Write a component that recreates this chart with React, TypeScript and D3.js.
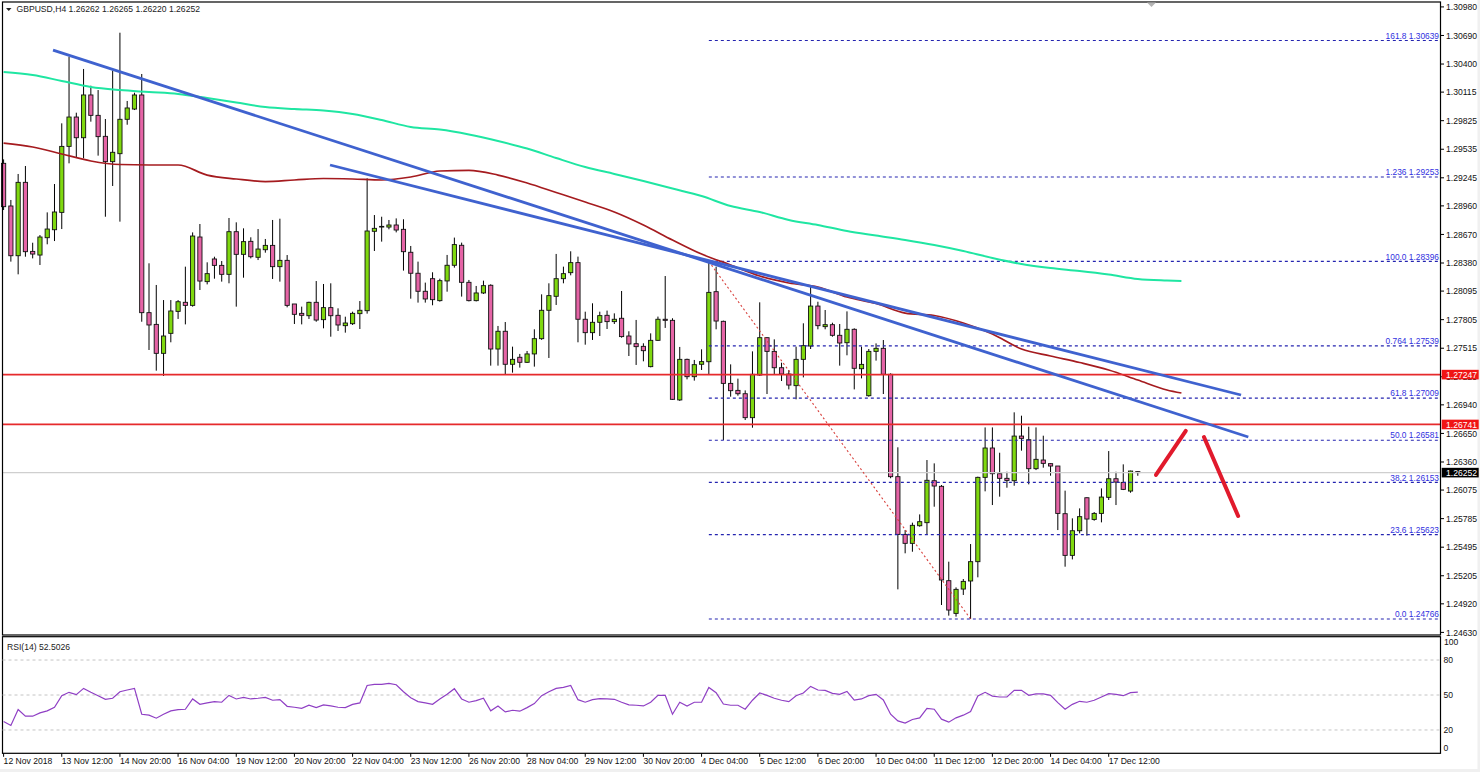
import * as d3 from 'd3';
import React from 'react';

const opens = [
  1.29392, 1.28959, 1.28454, 1.29199, 1.28498, 1.28461, 1.28637, 1.28718, 1.28894, 1.29564,
  1.29862, 1.29652, 1.30086, 1.29879, 1.29666, 1.29409, 1.2949, 1.29839, 1.29943, 1.30086,
  1.27876, 1.27757, 1.27463, 1.27666, 1.27889, 1.27981, 1.2795, 1.28644, 1.28191, 1.28421,
  1.28356, 1.28265, 1.28698, 1.28468, 1.286, 1.28438, 1.28515, 1.28559, 1.28343, 1.28407,
  1.27964, 1.27869, 1.27845, 1.27981, 1.27805, 1.27927, 1.27849, 1.27744, 1.27764, 1.27866,
  1.27896, 1.28702, 1.28745, 1.28745, 1.28766, 1.28722, 1.28489, 1.28276, 1.28093, 1.28221,
  1.27998, 1.28198, 1.28357, 1.2856, 1.28184, 1.27998, 1.28076, 1.28154, 1.27507, 1.27687,
  1.27352, 1.27423, 1.27372, 1.27457, 1.27612, 1.279, 1.28042, 1.28221, 1.28282, 1.28384,
  1.27809, 1.27673, 1.27778, 1.27849, 1.27785, 1.27819, 1.27639, 1.27561, 1.27534, 1.27328,
  1.27595, 1.27809, 1.27798, 1.2699, 1.27402, 1.27226, 1.27352, 1.27378, 1.28089, 1.27788,
  1.27158, 1.27087, 1.27053, 1.2681, 1.27243, 1.27622, 1.27483, 1.27317, 1.27253, 1.27135,
  1.27402, 1.27537, 1.27943, 1.27734, 1.27754, 1.27646, 1.27571, 1.27707, 1.27307, 1.27033,
  1.27483, 1.27514, 1.2725, 1.26211, 1.25625, 1.25534, 1.25713, 1.25744, 1.2617, 1.26113,
  1.25155, 1.24823, 1.2507, 1.25152, 1.25348, 1.26204, 1.26502, 1.26241, 1.26194, 1.2617,
  1.26623, 1.26586, 1.26292, 1.2638, 1.26343, 1.26319, 1.25835, 1.25412, 1.25662, 1.25997,
  1.25777, 1.25838, 1.26001, 1.2619, 1.26153, 1.26065, 1.26262,
];

const highs = [
  1.29432, 1.2902, 1.29284, 1.29365, 1.28586, 1.28664, 1.28894, 1.29182, 1.29798, 1.30475,
  1.29906, 1.3035, 1.3018, 1.30136, 1.29842, 1.30333, 1.30718, 1.30025, 1.30109, 1.30299,
  1.28377, 1.28157, 1.28004, 1.28004, 1.28004, 1.28343, 1.28691, 1.28776, 1.28387, 1.28444,
  1.284, 1.28837, 1.28793, 1.28732, 1.28641, 1.28725, 1.28624, 1.28817, 1.2883, 1.28461,
  1.27964, 1.27937, 1.27987, 1.28197, 1.28167, 1.28174, 1.2792, 1.27835, 1.27886, 1.27994,
  1.2924, 1.28867, 1.2885, 1.28817, 1.28833, 1.28824, 1.28553, 1.28394, 1.28181, 1.28286,
  1.28221, 1.28462, 1.28638, 1.28587, 1.28208, 1.28147, 1.28201, 1.28164, 1.27741, 1.27781,
  1.27531, 1.27457, 1.27487, 1.27707, 1.28062, 1.28174, 1.28472, 1.28343, 1.28499, 1.28445,
  1.27886, 1.27971, 1.27886, 1.27897, 1.27869, 1.28096, 1.27687, 1.27802, 1.27565, 1.27666,
  1.27836, 1.28248, 1.27819, 1.27528, 1.27409, 1.27396, 1.27504, 1.28394, 1.28343, 1.27795,
  1.27351, 1.27206, 1.27087, 1.27483, 1.27981, 1.27625, 1.27605, 1.27368, 1.27294, 1.27531,
  1.27768, 1.2814, 1.27987, 1.27903, 1.27774, 1.27761, 1.27889, 1.27717, 1.27531, 1.27507,
  1.27564, 1.27598, 1.2726, 1.26509, 1.25669, 1.25744, 1.25828, 1.2638, 1.26346, 1.26126,
  1.25348, 1.25087, 1.25172, 1.25527, 1.26211, 1.26711, 1.26711, 1.26454, 1.26261, 1.26864,
  1.2683, 1.26718, 1.26711, 1.26627, 1.26346, 1.26319, 1.26069, 1.25788, 1.25889, 1.26001,
  1.25852, 1.26092, 1.26471, 1.26261, 1.26336, 1.26272, 1.26265,
];

const lows = [
  1.28918, 1.28394, 1.28265, 1.28444, 1.28427, 1.2836, 1.2857, 1.28603, 1.28725, 1.29392,
  1.29453, 1.29443, 1.29815, 1.2947, 1.2885, 1.29162, 1.288, 1.29784, 1.29933, 1.27784,
  1.27497, 1.27287, 1.27233, 1.27575, 1.27812, 1.27757, 1.27937, 1.28106, 1.28163, 1.28221,
  1.28191, 1.28174, 1.27937, 1.28231, 1.28427, 1.2841, 1.28485, 1.28218, 1.28191, 1.2793,
  1.27761, 1.27757, 1.27812, 1.27784, 1.27717, 1.27632, 1.2769, 1.27673, 1.27751, 1.2771,
  1.27866, 1.28502, 1.28597, 1.28722, 1.28691, 1.28303, 1.28018, 1.27978, 1.27978, 1.27951,
  1.27988, 1.28089, 1.28333, 1.28039, 1.2799, 1.2799, 1.28066, 1.27338, 1.27338, 1.2725,
  1.27267, 1.27318, 1.27365, 1.27328, 1.276, 1.27416, 1.27954, 1.28174, 1.28255, 1.27575,
  1.27551, 1.27599, 1.27639, 1.2771, 1.27761, 1.27622, 1.27436, 1.27345, 1.27382, 1.27321,
  1.27589, 1.27721, 1.2699, 1.2698, 1.27199, 1.27186, 1.27294, 1.27243, 1.27707, 1.26583,
  1.27023, 1.27033, 1.26786, 1.26708, 1.27235, 1.2705, 1.27253, 1.27182, 1.27097, 1.26996,
  1.27219, 1.27507, 1.27707, 1.27707, 1.27632, 1.27338, 1.27443, 1.27097, 1.27209, 1.27023,
  1.27389, 1.2705, 1.26195, 1.25067, 1.25433, 1.25449, 1.25703, 1.25619, 1.25906, 1.24908,
  1.248, 1.2479, 1.2501, 1.24766, 1.25189, 1.26062, 1.25923, 1.26008, 1.26099, 1.26119,
  1.26475, 1.26133, 1.26278, 1.26302, 1.26221, 1.25669, 1.25297, 1.25371, 1.25635, 1.25612,
  1.25764, 1.25747, 1.25974, 1.25923, 1.26075, 1.26048, 1.2622,
];

const closes = [
  1.28952, 1.28454, 1.29199, 1.28495, 1.28471, 1.28644, 1.28725, 1.28898, 1.29564, 1.29862,
  1.29652, 1.30086, 1.29879, 1.29663, 1.29409, 1.29504, 1.29839, 1.29954, 1.30086, 1.27876,
  1.27751, 1.27463, 1.27639, 1.27893, 1.27987, 1.2795, 1.28654, 1.28197, 1.28272, 1.28356,
  1.28265, 1.28698, 1.28468, 1.28597, 1.28444, 1.28522, 1.28559, 1.28343, 1.28407, 1.2795,
  1.27859, 1.27849, 1.27981, 1.27801, 1.27927, 1.27845, 1.27751, 1.27771, 1.27869, 1.279,
  1.28705, 1.28732, 1.28752, 1.28766, 1.28715, 1.28495, 1.28276, 1.28093, 1.28015, 1.28008,
  1.28201, 1.28357, 1.28567, 1.28184, 1.27998, 1.28076, 1.2815, 1.27507, 1.27687, 1.27352,
  1.27402, 1.27372, 1.27457, 1.27612, 1.279, 1.28049, 1.28221, 1.28272, 1.28384, 1.27809,
  1.27673, 1.27778, 1.27846, 1.27785, 1.27809, 1.27633, 1.27558, 1.27531, 1.2749, 1.27595,
  1.27809, 1.27798, 1.26996, 1.27402, 1.27226, 1.27348, 1.27379, 1.28082, 1.27791, 1.27158,
  1.27084, 1.27053, 1.2681, 1.2725, 1.27622, 1.27483, 1.27317, 1.27253, 1.27141, 1.27402,
  1.27541, 1.27943, 1.27744, 1.27754, 1.27646, 1.27568, 1.27707, 1.27311, 1.27351, 1.27483,
  1.27514, 1.2725, 1.26211, 1.25625, 1.25534, 1.25717, 1.25754, 1.26174, 1.26116, 1.25162,
  1.24857, 1.25067, 1.25148, 1.25348, 1.26204, 1.26502, 1.26241, 1.26194, 1.26173, 1.26623,
  1.266, 1.26292, 1.26387, 1.26346, 1.26319, 1.25838, 1.25412, 1.25662, 1.25805, 1.25781,
  1.25838, 1.26004, 1.2619, 1.26156, 1.26082, 1.26268, 1.26252,
];

// moving averages, read every 4 bars (the last point sits 2 bars later)
const maBars = [
  0, 4, 8, 12, 16, 20, 24, 28, 32, 36, 40, 44, 48, 52, 56, 60, 64, 68, 72, 76, 80,
  84, 88, 92, 96, 100, 104, 108, 112, 116, 120, 124, 128, 132, 136, 140, 144, 148, 152, 156, 160, 162,
];
const maRed = [
  1.29598, 1.29558, 1.29487, 1.29416, 1.2938, 1.29375, 1.29375, 1.29273, 1.29233, 1.29207, 1.29223,
  1.29238, 1.29233, 1.29223, 1.29253, 1.29314, 1.29321, 1.29273, 1.29192, 1.29096, 1.28999,
  1.28898, 1.28766, 1.28614, 1.28471, 1.2836, 1.28248, 1.28177, 1.28136, 1.28035, 1.27969,
  1.27872, 1.27847, 1.27771, 1.27659, 1.27507, 1.27436, 1.2737, 1.27294, 1.27192, 1.27091, 1.2706,
];
const maGreen = [
  1.30319, 1.30289, 1.30228, 1.30167, 1.30136, 1.30116, 1.30096, 1.30055, 1.30009, 1.29964, 1.29943,
  1.29928, 1.29893, 1.29832, 1.29761, 1.29735, 1.29685, 1.29619, 1.29542, 1.29446, 1.29355,
  1.29284, 1.29212, 1.29136, 1.2906, 1.28959, 1.28898, 1.28817, 1.28766, 1.28705, 1.28659,
  1.28614, 1.28563, 1.28502, 1.28431, 1.2837, 1.28329, 1.28299, 1.28263, 1.28218, 1.28202, 1.28197,
];

const rsiValues = [
  27.3, 23.9, 37.5, 31.8, 31.8, 34.7, 36.4, 39.5, 49.4, 52.3, 50.3, 55.7, 52.3, 49.4, 46.3, 47.2,
  52.8, 54.3, 55.7, 33.5, 32.7, 30.1, 33.5, 36.4, 37.5, 37.8, 46.6, 42, 43.2, 44.3, 43.8, 49.7,
  46.6, 48, 46.6, 47.2, 48, 45.5, 46, 40.3, 39.5, 38.6, 41.2, 39.2, 41.5, 40.6, 39.5, 39.2, 42,
  43.2, 58.2, 59.1, 59.1, 59.9, 58.8, 52.8, 47.7, 44.3, 43.2, 42, 46.6, 50.6, 55.4, 46.6, 43.8,
  45.2, 47.2, 36.4, 40.6, 35.5, 36.9, 36.1, 39.2, 42.6, 49.4, 52.8, 55.7, 56.5, 58.2, 46, 43.8,
  46, 46.9, 46.6, 46.3, 43.8, 41.5, 41.2, 40.6, 43.8, 49.7, 49.7, 33.5, 43.8, 40.6, 43.8, 43.8,
  56.5, 52, 42.3, 41.2, 41.2, 37.8, 45.5, 51.7, 49.7, 47.2, 45.5, 44.3, 49.4, 51.7, 57.4, 54.3,
  54, 51.4, 50.6, 53.1, 45.7, 46.6, 49.4, 50.6, 45.7, 33.5, 27.8, 25.9, 29, 30.4, 38.6, 37.8,
  29.3, 26.7, 30.4, 32.7, 35.8, 49.1, 52.3, 49.1, 48.3, 48.3, 54, 54, 49.7, 50.9, 50.9, 49.7,
  43.5, 37.8, 42, 44.6, 43.8, 45.5, 48.3, 51.1, 50.6, 49.4, 52, 52.5,
];

const priceTicks = [
  '1.30980', '1.30690', '1.30400', '1.30115', '1.29825', '1.29535', '1.29245', '1.28960',
  '1.28670', '1.28380', '1.28095', '1.27805', '1.27515', '1.27225', '1.26940', '1.26650',
  '1.26360', '1.26075', '1.25785', '1.25495', '1.25205', '1.24920', '1.24630',
];

const dateLabels = [
  '12 Nov 2018', '13 Nov 12:00', '14 Nov 20:00', '16 Nov 04:00', '19 Nov 12:00', '20 Nov 20:00',
  '22 Nov 04:00', '23 Nov 12:00', '26 Nov 20:00', '28 Nov 04:00', '29 Nov 12:00', '30 Nov 20:00',
  '4 Dec 04:00', '5 Dec 12:00', '6 Dec 20:00', '10 Dec 04:00', '11 Dec 12:00', '12 Dec 20:00',
  '14 Dec 04:00', '17 Dec 12:00',
];

const fibNames = ['161.8', '1.236', '100.0', '0.764', '61.8', '50.0', '38.2', '23.6', '0.0'];
const fibPrices = [1.30639, 1.29253, 1.28396, 1.27539, 1.27009, 1.26581, 1.26153, 1.25623, 1.24766];

const redLevels = [1.27247, 1.26741];
const lastPrice = 1.26252;
const rsiLevels = [80, 50, 20];
const rsiLabels = [100, 80, 50, 20, 0];

// [bar, price] ends of the drawn lines
const trendA = [[6.8, 1.30542], [171.2, 1.26614]];
const trendB = [[44.9, 1.29375], [170.2, 1.2704]];
const fibDiagonal = [[97, 1.28396], [133, 1.24766]];
const arrowUp = [[158.5, 1.26228], [162.6, 1.26675]];
const arrowDown = [[165.1, 1.26614], [169.8, 1.25812]];

const WIDTH = 1480;
const HEIGHT = 772;
const LEFT = 2.5;
const RIGHT = 1440.5;
const FONT = '"Liberation Sans", Arial, sans-serif';

const x = d3.scaleLinear().domain([0, 156]).range([3.6, 1137.8]);
const y = d3.scaleLinear().domain([1.24766, 1.30639]).range([619, 40.5]);
const rsiY = d3.scaleLinear().domain([0, 100]).range([753.3, 636.7]);

const priceLine = d3
  .line<number[]>()
  .x((d) => x(d[0]))
  .y((d) => y(d[1]));

const maLine = d3
  .line<number>()
  .x((_, i) => x(maBars[i]))
  .y((d) => y(d))
  .curve(d3.curveMonotoneX);

const rsiLine = d3
  .line<number>()
  .x((_, i) => x(i))
  .y((d) => rsiY(d));

const App: React.FC = () => {
  return (
    <svg
      width={WIDTH}
      height={HEIGHT}
      style={{ position: 'fixed', left: 0, top: 0, background: '#ffffff' }}
      fontFamily={FONT}
      fontSize={8.6}
    >
      <rect x={0} y={769} width={WIDTH} height={3} fill="#f0f0f0" />
      <rect x={1477.5} y={0} width={2.5} height={HEIGHT} fill="#f0f0f0" />

      {/* candles */}
      {opens.map((open, i) => {
        const top = y(Math.max(open, closes[i]));
        const bottom = y(Math.min(open, closes[i]));
        return (
          <g key={i}>
            <line x1={x(i)} x2={x(i)} y1={y(highs[i])} y2={y(lows[i])} stroke="#000" />
            <rect
              x={x(i) - 2.1}
              y={top}
              width={4.2}
              height={Math.max(bottom - top, 0.5)}
              fill={closes[i] >= open ? '#7fd80f' : '#e564a6'}
              stroke="#111"
              strokeWidth={0.9}
            />
          </g>
        );
      })}

      {/* last price line */}
      <line x1={LEFT} x2={RIGHT} y1={y(lastPrice)} y2={y(lastPrice)} stroke="#cfcfcf" strokeWidth={1.2} />

      {/* fibonacci levels */}
      <path d={priceLine(fibDiagonal) ?? ''} fill="none" stroke="#d8403c" strokeWidth={1.1} strokeDasharray="2 2.5" />
      {fibPrices.map((p, i) => (
        <g key={fibNames[i]}>
          <line x1={x(97)} x2={RIGHT - 1} y1={y(p)} y2={y(p)} stroke="#2424b0" strokeWidth={1.15} strokeDasharray="3 3" />
          <text x={1439} y={y(p) - 1.8} textAnchor="end" fill="#3030e0" fontSize={8.35}>
            {fibNames[i]} {p.toFixed(5)}
          </text>
        </g>
      ))}

      {/* moving averages */}
      <path d={maLine(maGreen) ?? ''} fill="none" stroke="#1fe6a2" strokeWidth={2} />
      <path d={maLine(maRed) ?? ''} fill="none" stroke="#a51b1f" strokeWidth={1.7} />

      {/* horizontal levels */}
      {redLevels.map((p) => (
        <line key={p} x1={LEFT} x2={RIGHT} y1={y(p)} y2={y(p)} stroke="#e62a2c" strokeWidth={1.8} />
      ))}

      {/* trend lines and arrows */}
      <path d={priceLine(trendA) ?? ''} fill="none" stroke="#3f62cf" strokeWidth={2.8} />
      <path d={priceLine(trendB) ?? ''} fill="none" stroke="#3f62cf" strokeWidth={2.8} />
      <path d={priceLine(arrowUp) ?? ''} fill="none" stroke="#e11a2c" strokeWidth={4} strokeLinecap="round" />
      <path d={priceLine(arrowDown) ?? ''} fill="none" stroke="#e11a2c" strokeWidth={4} strokeLinecap="round" />

      {/* frames */}
      <rect x={LEFT} y={2} width={RIGHT - LEFT} height={633} fill="none" stroke="#000" strokeWidth={1.2} />
      <rect x={LEFT} y={636.7} width={RIGHT - LEFT} height={116.6} fill="none" stroke="#000" strokeWidth={1.2} />
      <path d="M1147,2.5 L1156,2.5 L1151.5,7 Z" fill="#b4b4b4" />

      {/* header */}
      <path d="M6,8 L11.5,8 L8.75,11 Z" fill="#222" />
      <text x={16.5} y={12} fill="#222">
        GBPUSD,H4{'  '}1.26262 1.26265 1.26220 1.26252
      </text>

      {/* price axis */}
      {priceTicks.map((t) => (
        <g key={t} transform={`translate(0,${y(+t)})`}>
          <line x1={RIGHT} x2={1444} stroke="#000" />
          <text x={1446} dy="0.36em" fill="#111">
            {t}
          </text>
        </g>
      ))}
      {redLevels.map((p) => (
        <g key={p} transform={`translate(0,${y(p)})`}>
          <rect x={1441.7} y={-4.8} width={37} height={9.6} fill="#f01414" />
          <text x={1446} dy="0.36em" fill="#fff">
            {p.toFixed(5)}
          </text>
        </g>
      ))}
      <g transform={`translate(0,${y(lastPrice)})`}>
        <rect x={1441.7} y={-4.8} width={37} height={9.6} fill="#000" />
        <text x={1446} dy="0.36em" fill="#fff">
          {lastPrice.toFixed(5)}
        </text>
      </g>

      {/* RSI panel */}
      {rsiLevels.map((v) => (
        <line key={v} x1={LEFT} x2={RIGHT} y1={rsiY(v)} y2={rsiY(v)} stroke="#c4c4c4" strokeDasharray="3 3" />
      ))}
      <path d={rsiLine(rsiValues) ?? ''} fill="none" stroke="#8f3fc4" strokeWidth={1.2} />
      <text x={7} y={650} fill="#222">
        RSI(14) 52.5026
      </text>
      {rsiLabels.map((v) => (
        <text key={v} x={v === 100 ? 1444 : 1443.5} y={v === 100 ? 642 : v === 0 ? 748 : rsiY(v)} dy="0.36em" fill="#111">
          {v}
        </text>
      ))}

      {/* time axis */}
      {dateLabels.map((label, i) => (
        <g key={label} transform={`translate(${x(i * 8)},753.3)`}>
          <line y2={3.5} stroke="#000" />
          <text y={11} fill="#111">
            {label}
          </text>
        </g>
      ))}
    </svg>
  );
};

export default App;
